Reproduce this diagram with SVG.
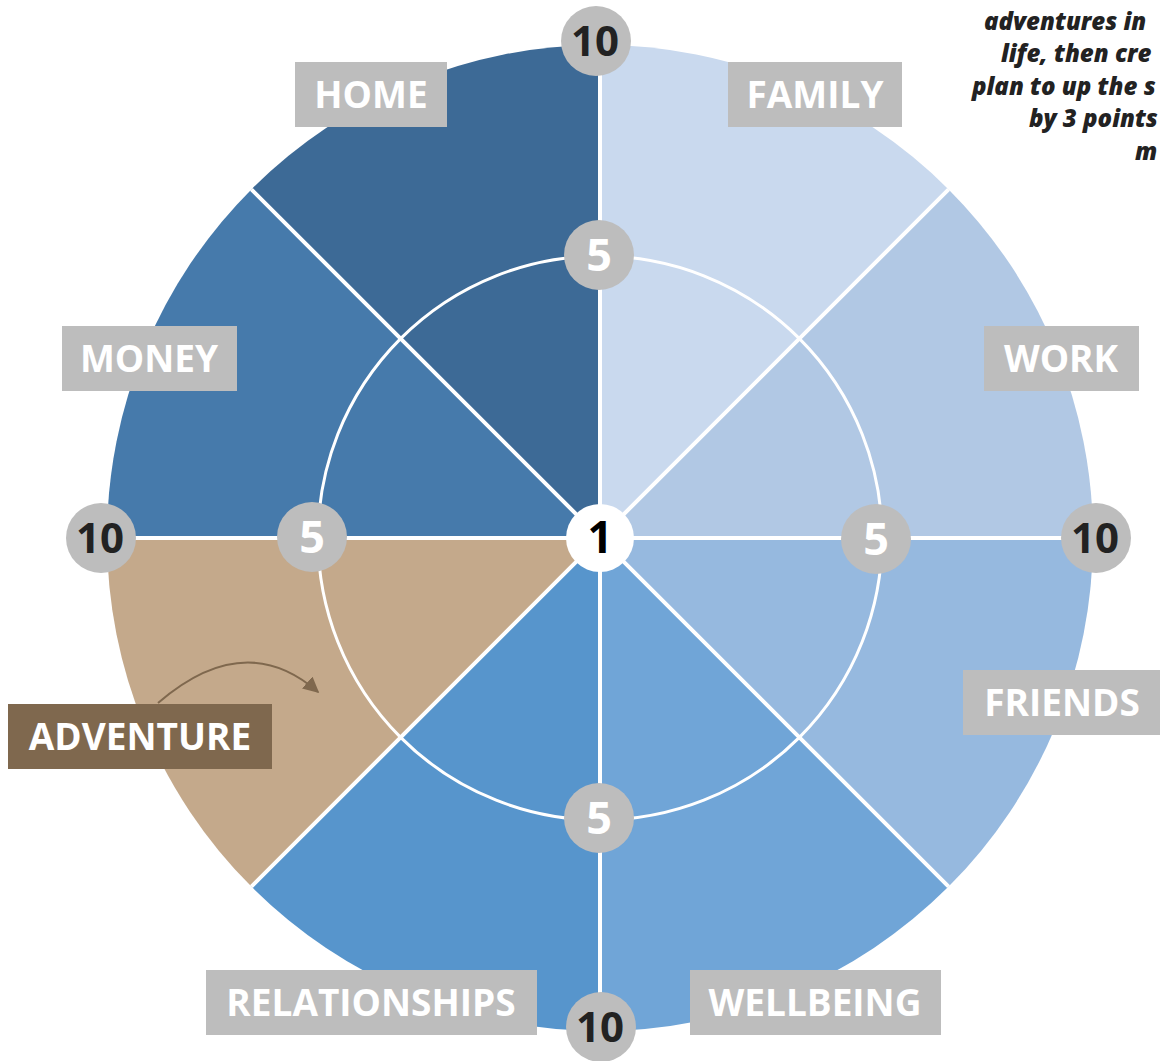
<svg xmlns="http://www.w3.org/2000/svg" width="1160" height="1061" viewBox="0 0 1160 1061">
<style>
.lbl{fill:#bdbdbd}
.lt{font-family:"Open Sans","Liberation Sans",sans-serif;font-weight:700;font-size:37px;fill:#ffffff;text-anchor:middle}
.bd{fill:#bdbdbd}
.ten{font-family:"Open Sans","Liberation Sans",sans-serif;font-weight:700;font-size:42px;fill:#222222;text-anchor:middle}
.five{font-family:"Open Sans","Liberation Sans",sans-serif;font-weight:700;font-size:45px;fill:#ffffff;text-anchor:middle}
.div{stroke:#ffffff;stroke-width:4;fill:none}
.note{font-family:"Open Sans","Liberation Sans",sans-serif;font-weight:800;font-style:italic;font-size:24px;fill:#222222}
</style>
<defs>
<marker id="ah" viewBox="0 0 10 10" refX="9" refY="5" markerWidth="8" markerHeight="8" orient="auto" markerUnits="strokeWidth">
<path d="M0,0 L10,5 L0,10 z" fill="#7f684e"/>
</marker>
</defs>
<rect width="1160" height="1061" fill="#ffffff"/>
<g id="wheel">
<path d="M600,538 L600,45 A493,493 0 0 0 251.4,189.4 Z" fill="#3d6a96"/>
<path d="M600,538 L251.4,189.4 A493,493 0 0 0 107,538 Z" fill="#467aab"/>
<path d="M600,538 L107,538 A493,493 0 0 0 251.4,886.6 Z" fill="#c4a98b"/>
<path d="M600,538 L251.4,886.6 A493,493 0 0 0 600,1031 Z" fill="#5795cc"/>
<path d="M600,538 L600,1031 A493,493 0 0 0 948.6,886.6 Z" fill="#70a5d7"/>
<path d="M600,538 L948.6,886.6 A493,493 0 0 0 1093,538 Z" fill="#96b9df"/>
<path d="M600,538 L1093,538 A493,493 0 0 0 948.6,189.4 Z" fill="#b1c8e4"/>
<path d="M600,538 L948.6,189.4 A493,493 0 0 0 600,45 Z" fill="#c9d9ee"/>
</g>
<g id="connectors">
<path class="div" d="M600,45 L600,1031 M107,538 L1093,538 M251.4,189.4 L948.6,886.6 M948.6,189.4 L251.4,886.6"/>
<circle cx="600" cy="538" r="282" fill="none" stroke="#ffffff" stroke-width="3"/>
<path d="M158,703 Q245,628 318,692" fill="none" stroke="#7f684e" stroke-width="2" marker-end="url(#ah)"/>
</g>
<g id="center">
<circle cx="600" cy="538" r="34" fill="#ffffff"/>
<text x="600" y="553" font-family="Open Sans, Liberation Sans, sans-serif" font-weight="700" font-size="44" fill="#000000" text-anchor="middle">1</text>
</g>
<g id="badges">
<g id="b-top10"><circle class="bd" cx="596" cy="41" r="35"/><text class="ten" x="595" y="56">10</text></g>
<g id="b-top5"><circle class="bd" cx="599" cy="255" r="35"/><text class="five" x="599" y="271">5</text></g>
<g id="b-left10"><circle class="bd" cx="101" cy="538" r="35"/><text class="ten" x="100" y="553">10</text></g>
<g id="b-left5"><circle class="bd" cx="312" cy="537" r="35"/><text class="five" x="312" y="553">5</text></g>
<g id="b-right5"><circle class="bd" cx="876" cy="539" r="35"/><text class="five" x="876" y="555">5</text></g>
<g id="b-right10"><circle class="bd" cx="1096" cy="538" r="35"/><text class="ten" x="1095" y="553">10</text></g>
<g id="b-bot5"><circle class="bd" cx="599" cy="818" r="35"/><text class="five" x="599" y="834">5</text></g>
<g id="b-bot10"><circle class="bd" cx="601" cy="1027" r="35"/><text class="ten" x="600" y="1042">10</text></g>
</g>
<g id="home"><rect class="lbl" x="295" y="62" width="152" height="65"/><text class="lt" x="371" y="108">HOME</text></g>
<g id="family"><rect class="lbl" x="728" y="62" width="174" height="65"/><text class="lt" x="815" y="108">FAMILY</text></g>
<g id="money"><rect class="lbl" x="62" y="326" width="175" height="65"/><text class="lt" x="149" y="372">MONEY</text></g>
<g id="work"><rect class="lbl" x="984" y="326" width="155" height="65"/><text class="lt" x="1061" y="372">WORK</text></g>
<g id="friends"><rect class="lbl" x="963" y="670" width="197" height="65"/><text class="lt" x="1062" y="716">FRIENDS</text></g>
<g id="adventure"><rect x="8" y="704" width="264" height="65" fill="#7f684e"/><text class="lt" x="140" y="750">ADVENTURE</text></g>
<g id="relationships"><rect class="lbl" x="206" y="970" width="331" height="65"/><text class="lt" x="371" y="1016">RELATIONSHIPS</text></g>
<g id="wellbeing"><rect class="lbl" x="690" y="970" width="251" height="65"/><text class="lt" x="815" y="1016">WELLBEING</text></g>
<g id="note">
<text class="note" x="984" y="30">adventures in</text>
<text class="note" x="1001" y="62">life, then cre</text>
<text class="note" x="972" y="95">plan to up the s</text>
<text class="note" x="1029" y="127">by 3 points</text>
<text class="note" x="1135" y="160">m</text>
</g>
</svg>
